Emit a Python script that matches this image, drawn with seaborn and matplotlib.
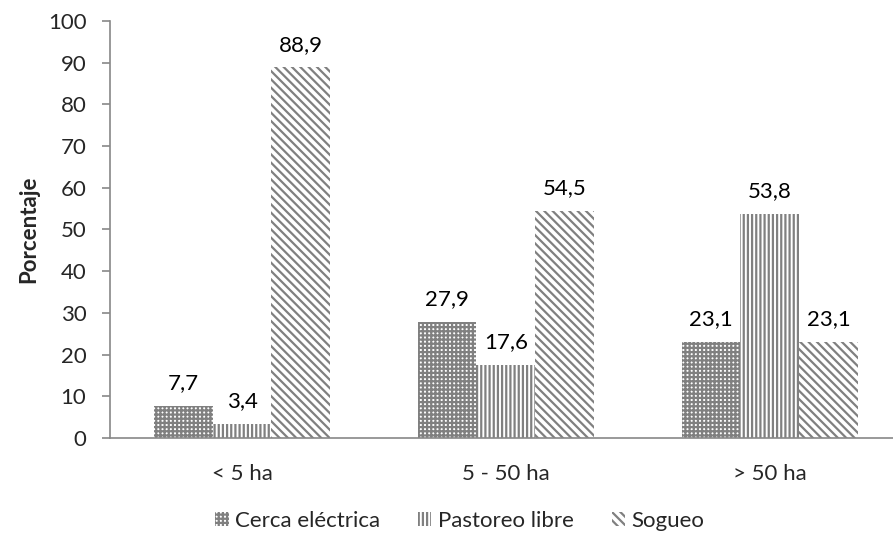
import matplotlib
matplotlib.use("Agg")
import matplotlib.pyplot as plt
from matplotlib.patches import Patch
import seaborn as sns
import pandas as pd

categories = ["< 5 ha", "5 - 50 ha", "> 50 ha"]
series = ["Cerca eléctrica", "Pastoreo libre", "Sogueo"]
cerca = [7.7, 27.9, 23.1]
pastoreo = [3.4, 17.6, 53.8]
sogueo = [88.9, 54.5, 23.1]
yticks = [0, 10, 20, 30, 40, 50, 60, 70, 80, 90, 100]

rows = []
for name, vals in zip(series, [cerca, pastoreo, sogueo]):
    for cat, v in zip(categories, vals):
        rows.append({"Tamaño": cat, "Sistema": name, "Porcentaje": v})
df = pd.DataFrame(rows)

sns.set_style("white")
plt.rcParams["font.family"] = ["Lato", "DejaVu Sans"]
plt.rcParams["hatch.linewidth"] = 1.6

grey = "#808080"
# (facecolor, hatch colour, hatch) per series
styles = [
    ("white", grey, "++++"),
    ("white", grey, "||||"),
    ("white", grey, "\\\\\\\\"),
]
fs = 16

fig = plt.figure(figsize=(8.93, 5.40), dpi=100)
ax = fig.add_axes([0.1232, 0.189, 0.8868, 0.772])

sns.barplot(data=df, x="Tamaño", y="Porcentaje", hue="Sistema",
            order=categories, hue_order=series, width=0.67, gap=0,
            palette=["white"] * 3, ax=ax, legend=False, errorbar=None)

for cont, (fc, hc, h) in zip(ax.containers, styles):
    for bar in cont:
        bar.set_facecolor(fc)
        bar.set_edgecolor(hc)
        bar.set_hatch(h)
        bar.set_linewidth(0)
    ax.bar_label(cont, labels=[f"{b.get_height():.1f}".replace(".", ",") for b in cont],
                 padding=9, fontsize=fs, color="black")

ax.set_xlim(-0.5, 2.5)
ax.set_ylim(0, 100)
ax.set_yticks(yticks)
ax.set_yticklabels([str(t) for t in yticks], fontsize=fs)
ax.set_xticklabels(categories, fontsize=fs)
ax.set_xlabel("")
ax.set_ylabel("Porcentaje", fontsize=fs, fontweight="bold", labelpad=6)

spine_c = "#888888"
for s in ["top", "right"]:
    ax.spines[s].set_visible(False)
for s in ["left", "bottom"]:
    ax.spines[s].set_color(spine_c)
    ax.spines[s].set_linewidth(1.2)
ax.tick_params(axis="y", direction="out", length=6, width=1.2, color=spine_c, left=True, pad=11)
ax.tick_params(axis="x", length=0, pad=19)

handles = [Patch(facecolor=fc, edgecolor=hc, hatch=h, linewidth=0, label=n)
           for (fc, hc, h), n in zip(styles, series)]
fig.legend(handles=handles, loc="center", bbox_to_anchor=(0.515, 0.035), ncol=3,
           frameon=False, fontsize=fs, handlelength=0.6, handleheight=0.6,
           handletextpad=0.3, columnspacing=1.7)

fig.savefig("out.png", dpi=100)
